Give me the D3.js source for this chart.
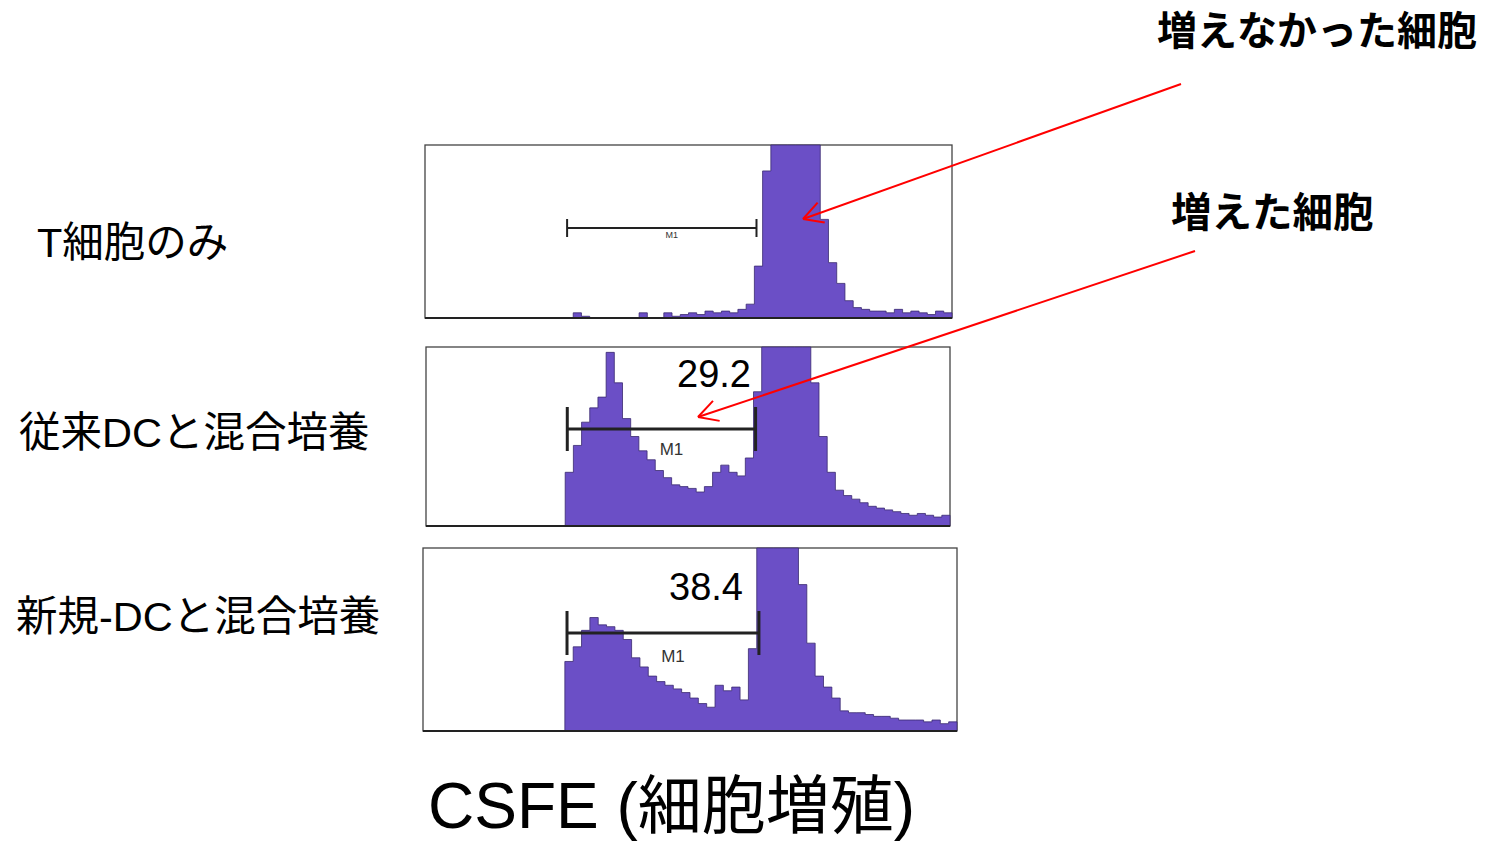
<!DOCTYPE html>
<html>
<head>
<meta charset="utf-8">
<script src="https://cdn.jsdelivr.net/npm/d3@7"></script>
<style>
  body { margin: 0; background: #fff; }
  svg { display: block; }
</style>
</head>
<body>
<div id="chart"></div>
<script>
// 64 channels per histogram, counts as % of panel height (>100 = off-scale)
var tOnly = [0,0,0,0,0,0,0,0,0,0,0,0,0,0,0,0,0,0,3,1,0,0,0,0,0,0,3,0,0,3,1,2,
             3,2,4,3,4,3,5,8,30,85,120,120,120,120,120,110,57,32,20,10,6,5,4,4,3,5,3,4,3,2,4,3];
var convDC = [0,0,0,0,0,0,0,0,0,0,0,0,0,0,0,0,0,30,45,58,66,72,97,80,60,50,42,37,31,27,23,22,
              21,19,22,30,34,30,28,38,75,120,120,120,120,120,120,80,50,30,20,17,15,13,11,10,9,8,7,6,7,6,5,6];
var newDC = [0,0,0,0,0,0,0,0,0,0,0,0,0,0,0,0,0,38,46,55,62,58,57,55,50,40,35,30,27,25,23,21,
             18,15,13,25,22,24,17,45,120,120,120,120,120,80,48,30,24,18,11,10,10,9,8,8,7,6,6,6,5,6,4,5];

var rowLabels = ["T細胞のみ", "従来DCと混合培養", "新規-DCと混合培養"];
var gatePct = [null, "29.2", "38.4"];
var markerName = "M1";
var gateRange = [17.5, 40.5];   // M1 gate, in channels
var xTitle = "CSFE (細胞増殖)";
var notes = ["増えなかった細胞", "増えた細胞"];

var W = 1492, H = 843;
var svg = d3.select("#chart").append("svg").attr("width", W).attr("height", H);

var panels = [
  { data: tOnly,  x0: 425, x1: 952, y0: 145, y1: 318, lab: [37, 257],  pctPos: null,      m1Size: 9,  m1Dy: 10 },
  { data: convDC, x0: 426, x1: 950, y0: 347, y1: 526, lab: [19, 447],  pctPos: [714, 387], m1Size: 17, m1Dy: 26 },
  { data: newDC,  x0: 423, x1: 957, y0: 548, y1: 731, lab: [16, 631],  pctPos: [706, 600], m1Size: 17, m1Dy: 29 }
];

var fillCol = "#6b4fc6";

panels.forEach(function (p, i) {
  var x = d3.scaleLinear().domain([0, 64]).range([p.x0, p.x1]);
  var y = d3.scaleLinear().domain([0, 100]).range([p.y1, p.y0]).clamp(true);
  var g = svg.append("g");

  g.append("rect")
    .attr("x", p.x0).attr("y", p.y0)
    .attr("width", p.x1 - p.x0).attr("height", p.y1 - p.y0)
    .attr("fill", "#fff").attr("stroke", "#444").attr("stroke-width", 1.3);

  var pts = p.data.map(function (v, k) { return [k, v]; });
  pts.push([64, p.data[63]]);

  var area = d3.area()
    .curve(d3.curveStepAfter)
    .x(function (d) { return x(d[0]); })
    .y0(p.y1)
    .y1(function (d) { return y(d[1]); });

  g.append("path").datum(pts)
    .attr("d", area)
    .attr("fill", fillCol)
    .attr("stroke", "#3a2a70").attr("stroke-width", 0.8);

  // bottom axis line
  g.append("line")
    .attr("x1", p.x0).attr("x2", p.x1)
    .attr("y1", p.y1).attr("y2", p.y1)
    .attr("stroke", "#222").attr("stroke-width", 2.2);

  // M1 gate marker
  var gy = i === 0 ? p.y0 + 83 : (i === 1 ? p.y0 + 82 : p.y0 + 85);
  var th = i === 0 ? 9 : 22;
  var gx0 = x(gateRange[0]) - 2, gx1 = x(gateRange[1]) - 2;
  g.append("line").attr("x1", gx0).attr("x2", gx1).attr("y1", gy).attr("y2", gy)
    .attr("stroke", "#222").attr("stroke-width", i === 0 ? 2 : 3);
  [gx0, gx1].forEach(function (gx) {
    g.append("line").attr("x1", gx).attr("x2", gx).attr("y1", gy - th).attr("y2", gy + th)
      .attr("stroke", "#222").attr("stroke-width", i === 0 ? 2 : 3);
  });
  g.append("text")
    .attr("x", (gx0 + gx1) / 2 + 10).attr("y", gy + p.m1Dy)
    .attr("text-anchor", "middle")
    .attr("font-family", "Liberation Sans, Arial, sans-serif")
    .attr("font-size", p.m1Size).attr("fill", "#333")
    .text(markerName);

  if (p.pctPos) {
    g.append("text")
      .attr("x", p.pctPos[0]).attr("y", p.pctPos[1])
      .attr("text-anchor", "middle")
      .attr("font-family", "Liberation Sans, Arial, sans-serif")
      .attr("font-size", 38).attr("fill", "#000")
      .text(gatePct[i]);
  }

  svg.append("text")
    .attr("x", p.lab[0]).attr("y", p.lab[1])
    .attr("font-family", "Liberation Sans, 'Noto Sans CJK JP', sans-serif")
    .attr("font-size", 41.5).attr("fill", "#000")
    .text(rowLabels[i]);
});

// x title
svg.append("text")
  .attr("x", 428).attr("y", 828)
  .attr("font-family", "Liberation Sans, 'Noto Sans CJK JP', sans-serif")
  .attr("font-size", 64).attr("fill", "#000")
  .text(xTitle);

// annotations
svg.append("text").attr("x", 1157).attr("y", 45)
  .attr("font-family", "'Noto Sans CJK JP', sans-serif").attr("font-weight", "bold")
  .attr("font-size", 40).text(notes[0]);
svg.append("text").attr("x", 1171).attr("y", 227)
  .attr("font-family", "'Noto Sans CJK JP', sans-serif").attr("font-weight", "bold")
  .attr("font-size", 40.5).text(notes[1]);

var arrows = [[[1181, 84], [803, 219]], [[1195, 251], [698, 417]]];
arrows.forEach(function (a) {
  var s = a[0], t = a[1];
  svg.append("line").attr("x1", s[0]).attr("y1", s[1]).attr("x2", t[0]).attr("y2", t[1])
    .attr("stroke", "#ff0000").attr("stroke-width", 2);
  var ang = Math.atan2(s[1] - t[1], s[0] - t[0]);
  [-0.5, 0.5].forEach(function (da) {
    svg.append("line")
      .attr("x1", t[0]).attr("y1", t[1])
      .attr("x2", t[0] + 22 * Math.cos(ang + da)).attr("y2", t[1] + 22 * Math.sin(ang + da))
      .attr("stroke", "#ff0000").attr("stroke-width", 2);
  });
});
</script>
</body>
</html>
